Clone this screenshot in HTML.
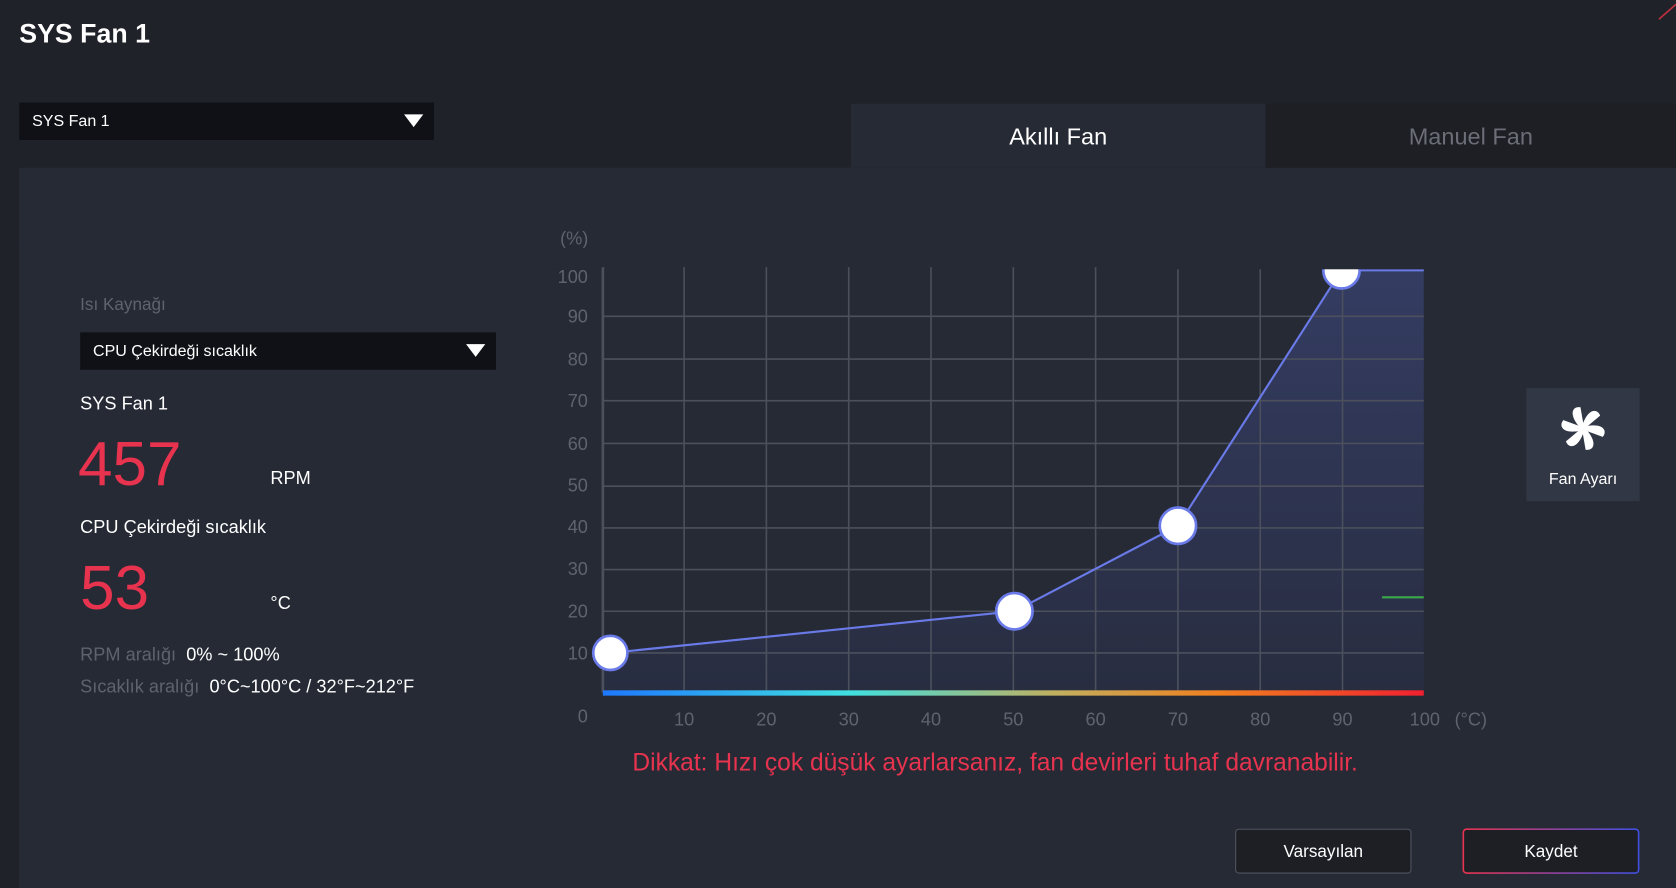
<!DOCTYPE html><html><head><meta charset="utf-8"><style>
body{margin:0;background:#202229;width:1676px;height:888px;overflow:hidden;font-family:"Liberation Sans",sans-serif}
#w{width:1568px;height:831px;transform:scale(1.0689,1.0686);transform-origin:0 0;position:relative;background:#202229;color:#fff}
.a{position:absolute}
</style></head><body><div id="w">
<div class="a" style="left:18px;top:18px;font-size:25px;font-weight:bold">SYS Fan 1</div>
<div class="a" style="left:18px;top:96px;width:388px;height:35px;background:#0f1116"><span class="a" style="left:12px;top:9px;font-size:15px">SYS Fan 1</span><span class="a" style="right:10px;top:11px;width:0;height:0;border-left:9px solid transparent;border-right:9px solid transparent;border-top:12px solid #fff"></span></div>
<div class="a" style="left:796px;top:97px;width:388px;height:60px;background:#262a35;font-size:22px;text-align:center;line-height:62px">Akıllı Fan</div>
<div class="a" style="left:1184px;top:97px;width:384px;height:60px;background:#1d1f25;color:#6b6e76;font-size:22px;text-align:center;line-height:62px">Manuel Fan</div>
<div class="a" style="left:18px;top:157px;width:1550px;height:674px;background:#252a35"></div>
<div class="a" style="left:75px;top:277px;font-size:16px;color:#5f636c">Isı Kaynağı</div>
<div class="a" style="left:75px;top:311px;width:389px;height:35px;background:#0f1116"><span class="a" style="left:12px;top:9px;font-size:15px">CPU Çekirdeği sıcaklık</span><span class="a" style="right:10px;top:11px;width:0;height:0;border-left:9px solid transparent;border-right:9px solid transparent;border-top:12px solid #fff"></span></div>
<div class="a" style="left:75px;top:368px;font-size:17px">SYS Fan 1</div>
<div class="a" style="left:73px;top:401px;font-size:58px;color:#e8334f">457</div>
<div class="a" style="left:253px;top:438px;font-size:17px">RPM</div>
<div class="a" style="left:75px;top:484px;font-size:17px">CPU Çekirdeği sıcaklık</div>
<div class="a" style="left:75px;top:517px;font-size:58px;color:#e8334f">53</div>
<div class="a" style="left:253px;top:555px;font-size:17px">°C</div>
<div class="a" style="left:75px;top:603px;font-size:17px"><span style="color:#5f636c">RPM aralığı</span>&nbsp; 0% ~ 100%</div>
<div class="a" style="left:75px;top:633px;font-size:17px"><span style="color:#5f636c">Sıcaklık aralığı</span>&nbsp; 0°C~100°C / 32°F~212°F</div>
<svg class="a" style="left:0;top:0" width="1568" height="831" font-family="Liberation Sans" font-size="17" fill="#5f636c">
<defs><linearGradient id="g" x1="0" x2="1"><stop offset="0" stop-color="#1e78ff"/><stop offset=".3" stop-color="#40e0e0"/><stop offset=".55" stop-color="#c0b060"/><stop offset=".75" stop-color="#f08020"/><stop offset="1" stop-color="#f02030"/></linearGradient>
<linearGradient id="f" x1="0" y1="0" x2="0" y2="1"><stop offset="0" stop-color="#343c62"/><stop offset="1" stop-color="#282d40"/></linearGradient></defs>
<text x="524" y="229">(%)</text>
<path d="M564 611 L949 572 L1102 492 L1255 253 L1332 253 L1332 648 L564 648Z" fill="url(#f)"/>
<g stroke="#4b505c" stroke-width="1.5">
<line x1="640" y1="250" x2="640" y2="648"/><line x1="717" y1="250" x2="717" y2="648"/><line x1="794" y1="250" x2="794" y2="648"/><line x1="871" y1="250" x2="871" y2="648"/><line x1="948" y1="250" x2="948" y2="648"/><line x1="1025" y1="250" x2="1025" y2="648"/><line x1="1102" y1="250" x2="1102" y2="648"/><line x1="1179" y1="250" x2="1179" y2="648"/><line x1="1256" y1="250" x2="1256" y2="648"/>
<line x1="564" y1="296" x2="1332" y2="296"/><line x1="564" y1="336" x2="1332" y2="336"/><line x1="564" y1="375" x2="1332" y2="375"/><line x1="564" y1="415" x2="1332" y2="415"/><line x1="564" y1="455" x2="1332" y2="455"/><line x1="564" y1="494" x2="1332" y2="494"/><line x1="564" y1="533" x2="1332" y2="533"/><line x1="564" y1="572" x2="1332" y2="572"/><line x1="564" y1="611" x2="1332" y2="611"/>
<line x1="564" y1="250" x2="564" y2="648" stroke-width="2.5"/>
</g>
<line x1="1255" y1="253" x2="1332" y2="253" stroke="#6a7ae8" stroke-width="2"/>
<rect x="564" y="646" width="768" height="5" fill="url(#g)"/>
<line x1="1293" y1="559" x2="1332" y2="559" stroke="#3aaa4a" stroke-width="2"/>
<polyline points="571,611 949,572 1102,492 1255,253" fill="none" stroke="#6a7ae8" stroke-width="2"/>
<g fill="#fff" stroke="#6a7ae8" stroke-width="2.5"><circle cx="571" cy="611" r="16"/><circle cx="949" cy="572" r="17"/><circle cx="1102" cy="492" r="17"/><circle cx="1255" cy="253" r="17"/></g>
<rect x="18" y="232" width="545" height="20" fill="#252a35"/>
<rect x="1100" y="220" width="300" height="32" fill="#252a35"/>
<g text-anchor="end"><text x="550" y="265">100</text><text x="550" y="302">90</text><text x="550" y="342">80</text><text x="550" y="381">70</text><text x="550" y="421">60</text><text x="550" y="460">50</text><text x="550" y="499">40</text><text x="550" y="538">30</text><text x="550" y="578">20</text><text x="550" y="617">10</text><text x="550" y="676">0</text></g>
<g text-anchor="middle"><text x="640" y="679">10</text><text x="717" y="679">20</text><text x="794" y="679">30</text><text x="871" y="679">40</text><text x="948" y="679">50</text><text x="1025" y="679">60</text><text x="1102" y="679">70</text><text x="1179" y="679">80</text><text x="1256" y="679">90</text><text x="1333" y="679">100</text><text x="1376" y="679">(°C)</text></g>
<text x="931" y="721" text-anchor="middle" fill="#e8334f" font-size="23">Dikkat: Hızı çok düşük ayarlarsanız, fan devirleri tuhaf davranabilir.</text>
<rect x="1428" y="363" width="106" height="106" fill="#313744"/>
<g transform="translate(1481,401)" fill="#fff"><circle r="5"/><g id="b"><path d="M0,-5 C6,-20 14,-18 16,-12 L4,-2Z"/></g><use href="#b" transform="rotate(60)"/><use href="#b" transform="rotate(120)"/><use href="#b" transform="rotate(180)"/><use href="#b" transform="rotate(240)"/><use href="#b" transform="rotate(300)"/></g>
<text x="1481" y="453" text-anchor="middle" fill="#fff" font-size="15">Fan Ayarı</text>
<rect x="1156" y="776" width="164" height="41" rx="3" fill="#1d1f25" stroke="#50545e"/>
<text x="1238" y="802" text-anchor="middle" fill="#fff" font-size="16">Varsayılan</text>
<defs><linearGradient id="k"><stop offset="0" stop-color="#e8334f"/><stop offset="1" stop-color="#4050e0"/></linearGradient></defs>
<rect x="1369" y="776" width="164" height="41" rx="3" fill="#1d1f25" stroke="url(#k)" stroke-width="1.5"/>
<text x="1451" y="802" text-anchor="middle" fill="#fff" font-size="16">Kaydet</text>
<line x1="1552" y1="18" x2="1568" y2="4" stroke="#c03040" stroke-width="1.5"/>
</svg>
</div></body></html>
